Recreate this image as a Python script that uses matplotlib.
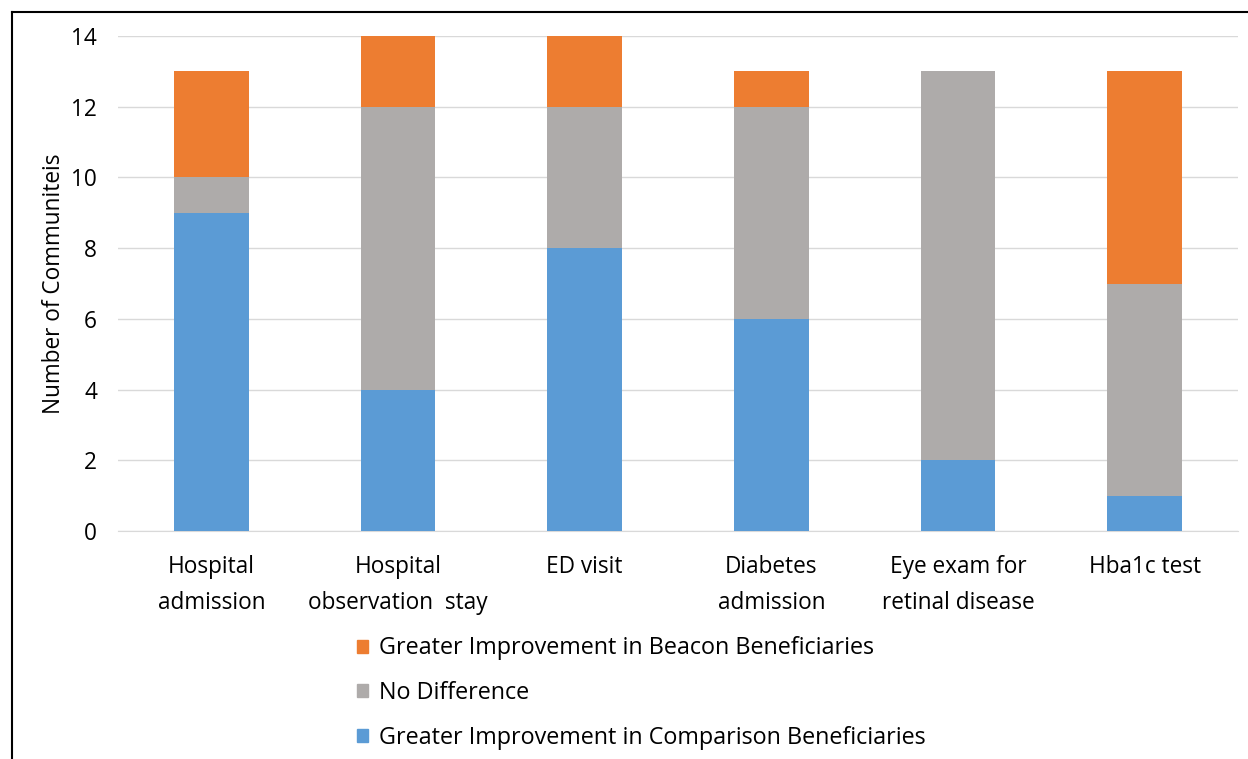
import matplotlib.pyplot as plt
from matplotlib.lines import Line2D
from matplotlib.patches import Patch
import numpy as np

categories = ["Hospital\nadmission", "Hospital\nobservation  stay", "ED visit",
              "Diabetes\nadmission", "Eye exam for\nretinal disease", "Hba1c test"]
comparison = [9, 4, 8, 6, 2, 1]
no_diff = [1, 8, 4, 6, 11, 6]
beacon = [3, 2, 2, 1, 0, 6]
y_ticks = [0, 2, 4, 6, 8, 10, 12, 14]

c_blue = "#5B9BD5"
c_gray = "#AEABAA"
c_orange = "#ED7D31"

plt.rcParams['font.family'] = ['Open Sans', 'DejaVu Sans']
fs = 16.3

fig = plt.figure(figsize=(12.48, 7.59), dpi=100)
ax = fig.add_axes([118 / 1248, 1 - 531 / 759, (1238 - 118) / 1248, (531 - 36) / 759])

x = np.arange(len(categories))
w = 0.4
ax.bar(x, comparison, w, color=c_blue, zorder=3)
ax.bar(x, no_diff, w, bottom=comparison, color=c_gray, zorder=3)
ax.bar(x, beacon, w, bottom=np.add(comparison, no_diff), color=c_orange, zorder=3)

ax.set_xlim(-0.5, len(categories) - 0.5)
ax.set_ylim(0, 14)
ax.set_yticks(y_ticks)
ax.yaxis.grid(True, color="#D9D9D9", linewidth=1, zorder=0)
ax.set_axisbelow(True)
for s in ["top", "right", "left"]:
    ax.spines[s].set_visible(False)
ax.spines["bottom"].set_color("#D9D9D9")
ax.tick_params(axis="both", length=0, labelsize=fs, colors="#000000")
ax.tick_params(axis="y", pad=15)
ax.tick_params(axis="x", pad=17.5)
ax.set_xticks(x)
ax.set_xticklabels(categories, linespacing=1.65)
ax.set_ylabel("Number of Communiteis", fontsize=fs, labelpad=3.5)

handles = [Patch(color=c_orange, label="Greater Improvement in Beacon Beneficiaries"),
           Patch(color=c_gray, label="No Difference"),
           Patch(color=c_blue, label="Greater Improvement in Comparison Beneficiaries")]
fig.legend(handles=handles, loc="center", bbox_to_anchor=(641 / 1248, 1 - 693 / 759),
           frameon=False, fontsize=16.8, handlelength=0.5, handleheight=0.5,
           handletextpad=0.45, labelspacing=0.88, borderpad=0)

# frame along the top and left edges
fig.add_artist(Line2D([12 / 1248, 12 / 1248], [0, 1 - 12 / 759], color="black", lw=1.5,
                      transform=fig.transFigure))
fig.add_artist(Line2D([12 / 1248, 1], [1 - 12 / 759, 1 - 12 / 759], color="black", lw=1.5,
                      transform=fig.transFigure))

fig.savefig("out.png", dpi=100)
